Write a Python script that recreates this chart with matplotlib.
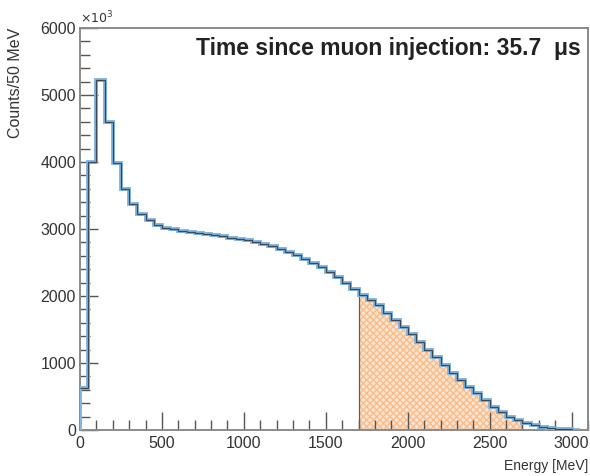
import numpy as np
import matplotlib
matplotlib.use("Agg")
import matplotlib.pyplot as plt
from matplotlib.ticker import MultipleLocator

plt.rcParams['font.family'] = ['Liberation Sans', 'DejaVu Sans']

# Positron energy spectrum, 50 MeV bins starting at 0 MeV (counts in units of 10^3)
bin_width = 50
counts = [
    620, 4000, 5230, 4600, 3980, 3600, 3380, 3230, 3130, 3060,   # 0 - 450
    3020, 2995, 2970, 2950, 2935, 2920, 2905, 2890, 2870, 2850,  # 500 - 950
    2830, 2810, 2780, 2745, 2705, 2660, 2610, 2555, 2495, 2430,  # 1000 - 1450
    2360, 2285, 2200, 2110, 2015, 1940, 1865, 1740, 1640, 1540,  # 1500 - 1950
    1440, 1320, 1190, 1095, 970, 845, 745, 645, 550, 450,        # 2000 - 2450
    350, 275, 200, 150, 100, 75, 50, 28, 15, 8,                  # 2500 - 2950
    3,                                                           # 3000
]
# Energy window used for the selected region
cut_low = 1700
cut_high = 2700

title_text = "Time since muon injection: 35.7  \u03bcs"
x_label = "Energy [MeV]"
y_label = "Counts/50 MeV"

counts = np.array(counts, dtype=float)
edges = np.arange(len(counts) + 1) * bin_width
sel = (edges[:-1] >= cut_low) & (edges[:-1] < cut_high)
sel_edges = np.append(edges[:-1][sel], edges[:-1][sel][-1] + bin_width)

fig = plt.figure(figsize=(5.9, 4.76), dpi=100)
ax = fig.add_axes([0.1356, 0.0966, 0.861, 0.8445])

frame = '#8a8a8a'
text_col = '#333333'

# selected window: hatched orange fill
ax.stairs(counts[sel], sel_edges, fill=True, facecolor='#fde4cf',
          edgecolor='#f8bd8e', hatch='xxxxx', linewidth=0, zorder=1)
ax.stairs(counts[sel], sel_edges, baseline=0, color='#6b5a4e',
          linewidth=0.9, zorder=2)

# full spectrum: light blue halo under a thin dark line
ax.stairs(counts, edges, baseline=0, color='#7fb6e3', linewidth=2.8, zorder=3)
ax.stairs(counts, edges, baseline=None, color='#3b4a5a', linewidth=0.9, zorder=4)

ax.set_xlim(0, 3100)
ax.set_ylim(0, 6000)

ax.xaxis.set_major_locator(MultipleLocator(500))
ax.xaxis.set_minor_locator(MultipleLocator(100))
ax.yaxis.set_major_locator(MultipleLocator(1000))
ax.yaxis.set_minor_locator(MultipleLocator(200))

ax.tick_params(which='both', direction='in', top=False, right=False,
               colors='#555555', labelcolor=text_col, labelsize=11.5, width=1)
ax.tick_params(which='major', length=13)
ax.tick_params(which='minor', length=7)
ax.tick_params(axis='y', pad=3)
ax.tick_params(axis='x', pad=4)

for s in ax.spines.values():
    s.set_color(frame)
    s.set_linewidth(1.4)

ax.set_xlabel(x_label, fontsize=10, color=text_col, loc='right', labelpad=6)
ax.set_ylabel(y_label, fontsize=11.5, color=text_col, loc='top')
ax.yaxis.set_label_coords(-0.112, 1.0)

ax.text(0.0, 1.005, r'$\times10^{3}$', transform=ax.transAxes, fontsize=9,
        color=text_col, ha='left', va='bottom')

ax.text(0.985, 0.933, title_text, transform=ax.transAxes, fontsize=16.5,
        fontweight='bold', color='#222222', ha='right', va='baseline')

fig.savefig('out.png', dpi=100)
